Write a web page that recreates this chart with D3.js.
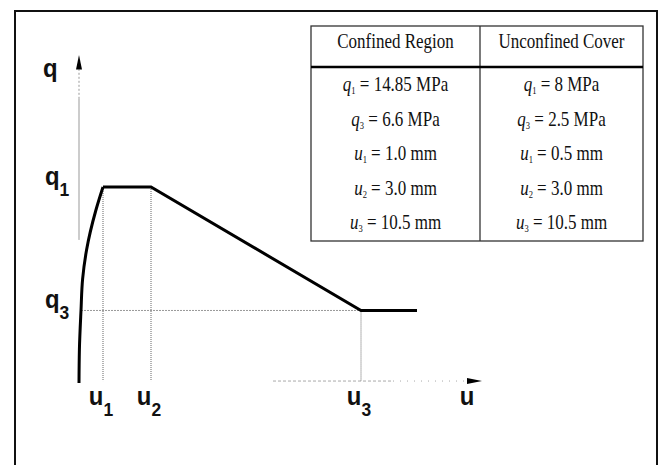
<!DOCTYPE html>
<html>
<head>
<meta charset="utf-8">
<script src="https://cdn.jsdelivr.net/npm/d3@7"></script>
<style>
  body { margin: 0; background: #fff; }
  svg { display: block; }
</style>
</head>
<body>
<div id="chart"></div>
<script>
// schematic units: u and q both run 0..100 on the drawing
const riseU = [0, 0.1, 0.5, 0.9, 1.9, 4.2, 6]
const riseQ = [0, 17, 37, 53, 68, 88, 100]
const tailU = [6, 18, 70.5, 84.5]
const tailQ = [100, 100, 37, 37]

const uMarks = [6, 18, 70.5]
const uNames = ["1", "2", "3"]
const qMarks = [100, 37]
const qNames = ["1", "3"]

const tableHeaders = ["Confined Region", "Unconfined Cover"]
const symbols = ["q", "q", "u", "u", "u"]
const symbolSubs = ["1", "3", "1", "2", "3"]
const confinedValues = ["14.85 MPa", "6.6 MPa", "1.0 mm", "3.0 mm", "10.5 mm"]
const unconfinedValues = ["8 MPa", "2.5 MPa", "0.5 mm", "3.0 mm", "10.5 mm"]

const width = 663, height = 465
const labelFont = "'Liberation Sans', Arial, sans-serif"
const serif = "'Liberation Serif', 'Times New Roman', serif"

const x = d3.scaleLinear().domain([0, 100]).range([79, 479])
const y = d3.scaleLinear().domain([0, 100]).range([383, 187])

const svg = d3.select("#chart").append("svg")
  .attr("width", width)
  .attr("height", height)
  .style("background", "#fff")

// outer frame (bottom edge runs off the picture)
svg.append("rect")
  .attr("x", 15).attr("y", 11)
  .attr("width", 642).attr("height", 470)
  .attr("fill", "none")
  .attr("stroke", "#111")
  .attr("stroke-width", 2)

const g = svg.append("g")

// q axis (only visible above the rising branch)
g.append("line")
  .attr("x1", x(0)).attr("x2", x(0))
  .attr("y1", y(73)).attr("y2", y(145))
  .attr("stroke", "#999").attr("stroke-width", 1)
g.append("line")
  .attr("x1", x(0)).attr("x2", x(0))
  .attr("y1", y(145)).attr("y2", y(160))
  .attr("stroke", "#999").attr("stroke-width", 1)
  .attr("stroke-dasharray", "2,2")
g.append("path")
  .attr("d", `M${x(0)},${y(167.3)} L${x(0) - 3},${y(160)} L${x(0) + 3},${y(160)} Z`)
  .attr("fill", "#000")

// u axis (faint dotted, then arrow)
g.append("line")
  .attr("x1", x(48.5)).attr("x2", x(78.5))
  .attr("y1", y(1)).attr("y2", y(1))
  .attr("stroke", "#aaa").attr("stroke-width", 1)
  .attr("stroke-dasharray", "3,2")
g.append("line")
  .attr("x1", x(78.5)).attr("x2", x(97))
  .attr("y1", y(1)).attr("y2", y(1))
  .attr("stroke", "#aaa").attr("stroke-width", 1)
  .attr("stroke-dasharray", "1,6")
g.append("path")
  .attr("d", `M${x(100.75)},${y(1)} L${x(97)},${y(1) - 3} L${x(97)},${y(1) + 3} Z`)
  .attr("fill", "#000")

// guide lines
g.append("line")
  .attr("x1", x(0.5)).attr("x2", x(uMarks[2]))
  .attr("y1", y(qMarks[1])).attr("y2", y(qMarks[1]))
  .attr("stroke", "#999").attr("stroke-width", 1)
  .attr("stroke-dasharray", "2,1")

g.selectAll(".uguide")
  .data(uMarks)
  .enter().append("line")
  .attr("class", "uguide")
  .attr("x1", d => x(d)).attr("x2", d => x(d))
  .attr("y1", (d, i) => i < 2 ? y(qMarks[0]) : y(qMarks[1]))
  .attr("y2", y(1))
  .attr("stroke", "#666").attr("stroke-width", 1)
  .attr("stroke-dasharray", "1,1")

// the curve
const rise = riseU.map((u, i) => [u, riseQ[i]])
const tail = tailU.map((u, i) => [u, tailQ[i]])

g.append("path")
  .datum(rise)
  .attr("d", d3.line().x(d => x(d[0])).y(d => y(d[1])).curve(d3.curveMonotoneY))
  .attr("fill", "none")
  .attr("stroke", "#000")
  .attr("stroke-width", 3)

g.append("path")
  .datum(tail)
  .attr("d", d3.line().x(d => x(d[0])).y(d => y(d[1])))
  .attr("fill", "none")
  .attr("stroke", "#000")
  .attr("stroke-width", 3)
  .attr("stroke-linejoin", "miter")

// axis labels, slightly condensed bold sans
function label(txt, sub, px, py, anchor) {
  const t = g.append("text")
    .attr("transform", `translate(${px},${py}) scale(0.92,1)`)
    .attr("text-anchor", anchor)
    .style("font-family", labelFont)
    .style("font-weight", "bold")
    .style("font-size", "26px")
    .attr("fill", "#111")
  t.append("tspan").text(txt)
  if (sub) t.append("tspan").attr("dy", 11).style("font-size", "19px").text(sub)
}

label("q", null, 43, 77, "start")
qMarks.forEach((q, i) => label("q", qNames[i], 45, y(q) - 2, "start"))
uMarks.forEach((u, i) => label("u", uNames[i], x(u) - 2, 405, "middle"))
label("u", null, 467, 405, "middle")

// parameter table
const tx = [311, 480, 643]
const ty0 = 26, tyHead = 67, ty1 = 241
const tg = svg.append("g")

tg.append("rect")
  .attr("x", tx[0]).attr("y", ty0)
  .attr("width", tx[2] - tx[0]).attr("height", ty1 - ty0)
  .attr("fill", "#fff")
  .attr("stroke", "#333").attr("stroke-width", 1.3)
tg.append("line")
  .attr("x1", tx[1]).attr("x2", tx[1])
  .attr("y1", ty0).attr("y2", ty1)
  .attr("stroke", "#333").attr("stroke-width", 1.3)
tg.append("line")
  .attr("x1", tx[0]).attr("x2", tx[2])
  .attr("y1", tyHead).attr("y2", tyHead)
  .attr("stroke", "#000").attr("stroke-width", 2.4)

// condensed Times look: 20px glyphs squeezed horizontally
tg.selectAll(".head")
  .data(tableHeaders)
  .enter().append("text")
  .attr("class", "head")
  .attr("transform", (d, i) => `translate(${(tx[i] + tx[i + 1]) / 2},48) scale(0.85,1)`)
  .attr("text-anchor", "middle")
  .style("font-family", serif)
  .style("font-size", "20px")
  .attr("fill", "#111")
  .text(d => d)

;[confinedValues, unconfinedValues].forEach((vals, c) => {
  vals.forEach((v, r) => {
    const t = tg.append("text")
      .attr("transform", `translate(${(tx[c] + tx[c + 1]) / 2},${91 + r * 34.5}) scale(0.85,1)`)
      .attr("text-anchor", "middle")
      .style("font-family", serif)
      .style("font-size", "20px")
      .attr("fill", "#111")
    t.append("tspan").style("font-style", "italic").text(symbols[r])
    t.append("tspan").attr("dy", 3).style("font-size", "10px").text(symbolSubs[r])
    t.append("tspan").attr("dy", -3).text(" = " + v)
  })
})
</script>
</body>
</html>
